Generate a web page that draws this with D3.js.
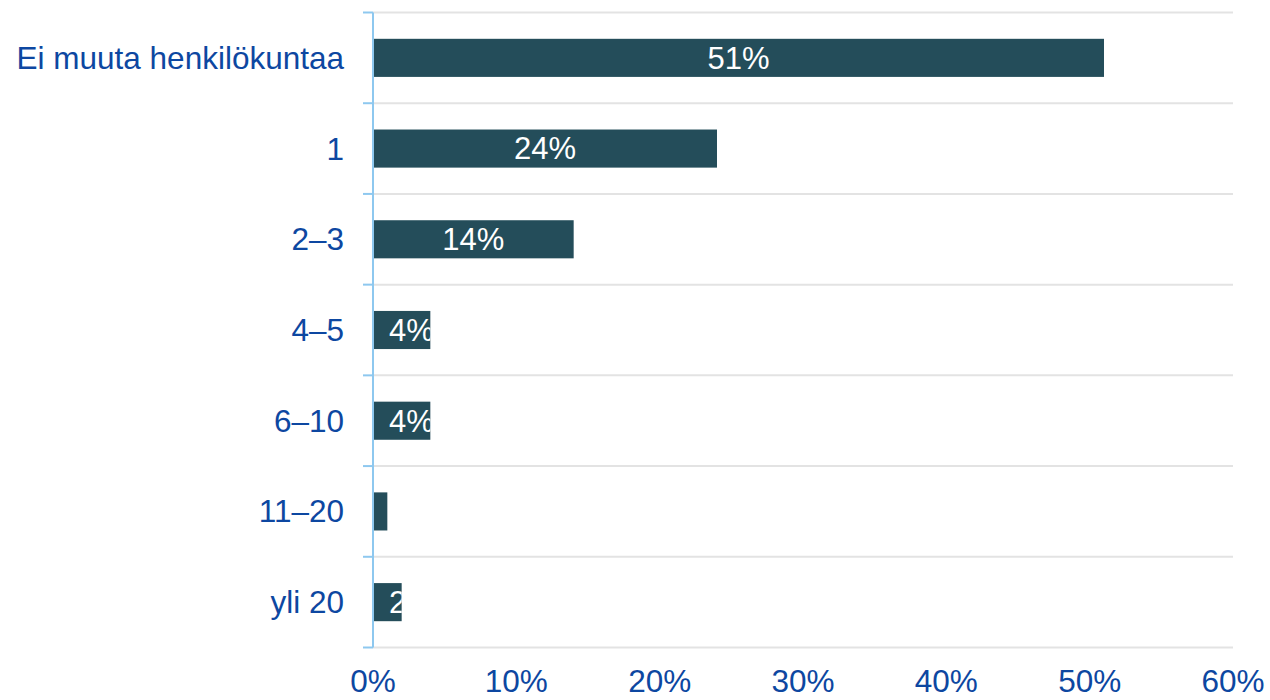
<!DOCTYPE html>
<html>
<head>
<meta charset="utf-8">
<script src="https://cdn.jsdelivr.net/npm/d3@7"></script>
<style>
  body { margin: 0; background: #fff; }
  text { font-family: "Liberation Sans", Arial, sans-serif; }
</style>
</head>
<body>
<div id="chart"></div>
<script>
// Data
var categories = ["Ei muuta henkilökuntaa", "1", "2–3", "4–5", "6–10", "11–20", "yli 20"];
var values = [51, 24, 14, 4, 4, 1, 2];
var tickValues = [0, 10, 20, 30, 40, 50, 60];

var width = 1270;
var height = 700;
var margin = {top: 12.5, right: 37, bottom: 52.5, left: 373};

var svg = d3.select("#chart")
    .append("svg")
    .attr("width", width)
    .attr("height", height);

var x = d3.scaleLinear()
    .domain([0, 60])
    .range([margin.left, width - margin.right]);

var y = d3.scaleBand()
    .domain(categories)
    .range([margin.top, height - margin.bottom])
    .paddingInner(0.58)
    .paddingOuter(0.29);

var step = y.step();
var bandEdges = d3.range(categories.length + 1).map(function(i) {
    return margin.top + i * step;
});

//Horizontal gridlines
svg.append("g")
    .selectAll("line")
    .data(bandEdges)
    .enter()
    .append("line")
    .attr("x1", x(0))
    .attr("x2", x(60))
    .attr("y1", function(d) { return d; })
    .attr("y2", function(d) { return d; })
    .style("stroke", "#e3e3e3")
    .style("stroke-width", 2);

// Clip paths so the labels get cut at the bar end
var defs = svg.append("defs");
defs.selectAll("clipPath")
    .data(values)
    .enter()
    .append("clipPath")
    .attr("id", function(d, i) { return "clip" + i; })
    .append("rect")
    .attr("x", x(0))
    .attr("y", function(d, i) { return y(categories[i]); })
    .attr("width", function(d) { return x(d) - x(0); })
    .attr("height", y.bandwidth());

//Bars
svg.append("g")
    .selectAll("rect")
    .data(values)
    .enter()
    .append("rect")
    .attr("x", x(0))
    .attr("y", function(d, i) { return y(categories[i]); })
    .attr("width", function(d) { return x(d) - x(0); })
    .attr("height", y.bandwidth())
    .style("fill", "#244d5a");

//Value labels
var labels = svg.append("g")
    .selectAll("text")
    .data(values)
    .enter()
    .append("text")
    .attr("clip-path", function(d, i) { return "url(#clip" + i + ")"; })
    .attr("y", function(d, i) { return y(categories[i]) + y.bandwidth() / 2; })
    .attr("dy", "0.35em")
    .style("font-size", "31px")
    .style("fill", "#fff")
    .text(function(d) { return d + "%"; });

labels.attr("x", function(d) {
    var w = this.getComputedTextLength();
    var center = (x(0) + x(d)) / 2;
    return Math.max(center - w / 2, x(0) + 16);
});

//Axis line with tick marks
var axis = svg.append("g");
axis.append("line")
    .attr("x1", x(0))
    .attr("x2", x(0))
    .attr("y1", bandEdges[0])
    .attr("y2", bandEdges[bandEdges.length - 1])
    .style("stroke", "#8ec8ef")
    .style("stroke-width", 2);
axis.selectAll(".tick")
    .data(bandEdges)
    .enter()
    .append("line")
    .attr("class", "tick")
    .attr("x1", x(0) - 10)
    .attr("x2", x(0))
    .attr("y1", function(d) { return d; })
    .attr("y2", function(d) { return d; })
    .style("stroke", "#8ec8ef")
    .style("stroke-width", 2);

//Category labels
svg.append("g")
    .selectAll("text")
    .data(categories)
    .enter()
    .append("text")
    .attr("x", 344)
    .attr("y", function(d) { return y(d) + y.bandwidth() / 2; })
    .attr("dy", "0.35em")
    .attr("text-anchor", "end")
    .style("font-size", "31.5px")
    .style("fill", "#0d47a1")
    .text(function(d) { return d; });

//X tick labels
svg.append("g")
    .selectAll("text")
    .data(tickValues)
    .enter()
    .append("text")
    .attr("x", function(d) { return x(d); })
    .attr("y", 692)
    .attr("text-anchor", "middle")
    .style("font-size", "31.5px")
    .style("fill", "#0d47a1")
    .text(function(d) { return d + "%"; });
</script>
</body>
</html>
